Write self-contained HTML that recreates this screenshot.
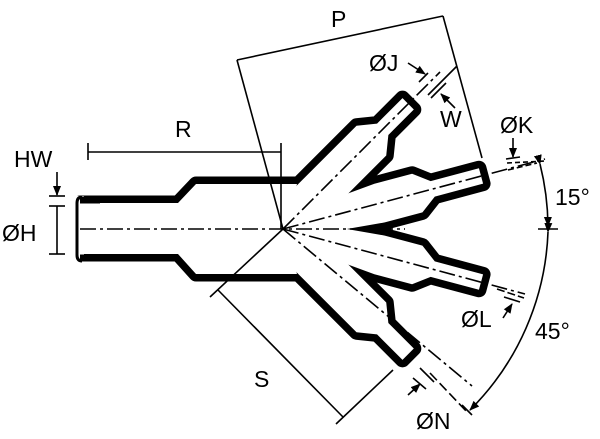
<!DOCTYPE html>
<html><head><meta charset="utf-8"><style>
html,body{margin:0;padding:0;background:#fff;}
svg{display:block;}
text{font-family:"Liberation Sans",sans-serif;font-size:23px;fill:#000;}
</style></head><body>
<svg width="600" height="439" viewBox="0 0 600 439" xmlns="http://www.w3.org/2000/svg">
<defs>
<polygon id="body" points="80,203 178,203 196,184 297,184 283,229 297,274 196,274 178,254 80,254"/>
<polygon id="a45" points="268,208 408,208 424,221 460,221 460,237 424,237 408,250 268,250"/>
<polygon id="a15" points="270,218 283,218 383,209 422,209 438,221 488,221 488,237 438,237 422,249 383,249 283,240 270,240"/>
<marker id="ar" markerWidth="10" markerHeight="10" refX="9" refY="5" orient="auto" markerUnits="userSpaceOnUse"><path d="M0,1 L10,5 L0,9 Z" fill="#000"/></marker>
</defs>
<g fill="#000" stroke="#000" stroke-width="15" stroke-linejoin="round">
<use href="#body"/>
<use href="#a45" transform="rotate(-45 283 229)"/>
<use href="#a45" transform="rotate(45 283 229)"/>
<use href="#a15" transform="rotate(-15 283 229)"/>
<use href="#a15" transform="rotate(15 283 229)"/>
</g>
<g fill="#fff" stroke="none">
<use href="#body"/>
<use href="#a45" transform="rotate(-45 283 229)"/>
<use href="#a45" transform="rotate(45 283 229)"/>
<use href="#a15" transform="rotate(-15 283 229)"/>
<use href="#a15" transform="rotate(15 283 229)"/>
</g>
<rect x="70" y="196" width="14" height="66" fill="#fff"/>
<path d="M82,197 Q77,197 77,203 L77,255 Q77,261 82,261" fill="none" stroke="#000" stroke-width="3"/>
<path d="M80,200 L100,200 M80,258 L100,258" stroke="#000" stroke-width="7"/>
<g stroke="#000" stroke-width="1.6" fill="none" stroke-dasharray="16 4 3 4">
<line x1="80" y1="229" x2="405" y2="229"/>
<line x1="283" y1="229" x2="440" y2="72"/>
<line x1="283" y1="229" x2="472" y2="386"/>
<line x1="283" y1="229" x2="545" y2="159"/>
<line x1="283" y1="229" x2="525" y2="294"/>
</g>
<g stroke="#000" stroke-width="1.6" fill="none">
<line x1="88" y1="152" x2="281" y2="152"/>
<line x1="88" y1="143" x2="88" y2="160"/>
<line x1="281" y1="143" x2="281" y2="229"/>
<line x1="237" y1="60" x2="443" y2="16"/>
<line x1="237" y1="60" x2="283" y2="229"/>
<line x1="443" y1="16" x2="482" y2="158"/>
<line x1="218" y1="290" x2="343" y2="417"/>
<line x1="210" y1="297" x2="283" y2="229"/>
<line x1="336" y1="424" x2="393" y2="370"/>
<line x1="57" y1="172" x2="57" y2="195" marker-end="url(#ar)"/>
<line x1="49" y1="196" x2="65" y2="196"/>
<line x1="49" y1="206" x2="65" y2="206"/>
<line x1="57" y1="206" x2="57" y2="254"/>
<line x1="49" y1="254" x2="65" y2="254"/>
<line x1="408" y1="63" x2="425" y2="74" marker-end="url(#ar)"/>
<line x1="419" y1="82" x2="428" y2="73"/>
<line x1="428" y1="95" x2="457" y2="66"/>
<line x1="431" y1="98" x2="446" y2="83"/>
<line x1="455" y1="108" x2="441" y2="94" marker-end="url(#ar)"/>
<line x1="513" y1="138" x2="513" y2="157" marker-end="url(#ar)"/>
<line x1="506" y1="159" x2="520" y2="157"/>
<line x1="508" y1="170" x2="537" y2="163" stroke-dasharray="6 3"/>
<line x1="507" y1="163" x2="546" y2="161" stroke-dasharray="5 3"/>
<line x1="503" y1="318" x2="512" y2="304" marker-end="url(#ar)"/>
<line x1="504" y1="297" x2="520" y2="302"/>
<line x1="497" y1="289" x2="524" y2="298" stroke-dasharray="8 3"/>
<line x1="408" y1="395" x2="420" y2="384" marker-end="url(#ar)"/>
<line x1="413" y1="378" x2="426" y2="389"/>
<line x1="420" y1="368" x2="434" y2="382"/>
<line x1="430" y1="373" x2="468" y2="413" stroke-dasharray="10 4"/>
<path d="M540,164 A265 265 0 0 1 548,226" marker-start="url(#ar)" marker-end="url(#ar)"/>
<path d="M548,232 A265 265 0 0 1 470,410" marker-start="url(#ar)" marker-end="url(#ar)"/>
<line x1="538" y1="229" x2="558" y2="229"/>
<line x1="462" y1="405" x2="472" y2="415"/>
</g>
<text x="331" y="27">P</text>
<text x="175" y="137">R</text>
<text x="14" y="167">HW</text>
<text x="2" y="241">ØH</text>
<text x="369" y="71">ØJ</text>
<text x="440" y="127">W</text>
<text x="500" y="133">ØK</text>
<text x="555" y="205">15°</text>
<text x="461" y="327">ØL</text>
<text x="535" y="339">45°</text>
<text x="254" y="387">S</text>
<text x="416" y="429">ØN</text>
</svg>
</body></html>
